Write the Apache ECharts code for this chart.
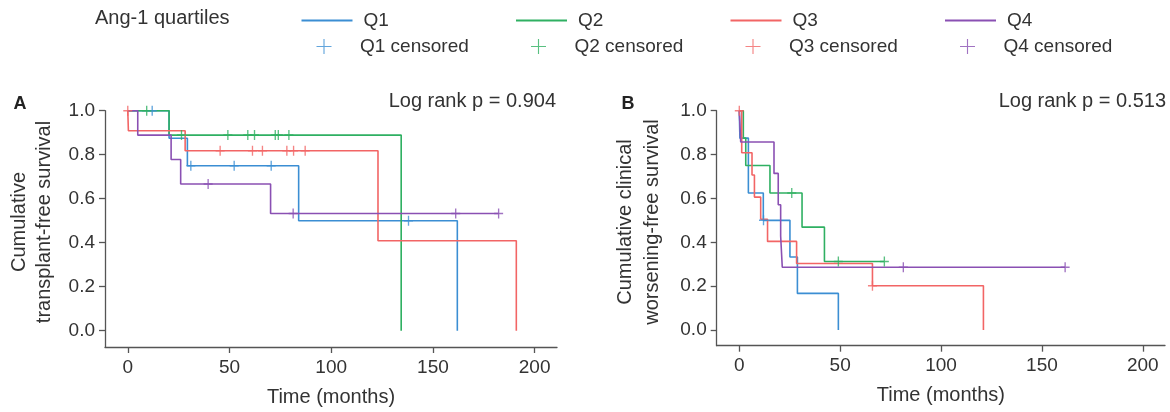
<!DOCTYPE html>
<html>
<head>
<meta charset="utf-8">
<script src="https://cdn.jsdelivr.net/npm/echarts@6/dist/echarts.min.js"></script>
<style>
html,body{margin:0;padding:0;background:#fff;}
#chart{width:1170px;height:412px;}
</style>
</head>
<body>
<div id="chart"></div>
<script>
// ---------- DATA ----------
const groups = ['Q1', 'Q2', 'Q3', 'Q4'];
const xTicks = [0, 50, 100, 150, 200];
const yTicks = [0, 0.2, 0.4, 0.6, 0.8, 1.0];

// Panel A: transplant-free survival (event times, survival after event)
const A_Q1_t = [0, 20.3, 29.3, 84, 162];
const A_Q1_s = [1, 0.875, 0.75, 0.5, 0];
const A_Q1_cens = [12, 31, 52.3, 70.5, 138];

const A_Q2_t = [0, 20.3, 134.4];
const A_Q2_s = [1, 0.889, 0];
const A_Q2_cens = [9.3, 26.4, 49.2, 59, 62.3, 72.5, 74, 79.2];

const A_Q3_t = [0, 0.3, 28.2, 123, 191];
const A_Q3_s = [1, 0.909, 0.818, 0.409, 0];
const A_Q3_cens = [0, 45.4, 61.3, 66.2, 78.2, 81.5, 87.2];

const A_Q4_t = [0, 4.9, 21.3, 26, 70.2, 182.3];
const A_Q4_s = [1, 0.889, 0.778, 0.667, 0.533, 0.533];
const A_Q4_cens = [39.5, 81.3, 161.2, 182.3];

// Panel B: clinical worsening-free survival
const B_Q1_t = [0, 0.3, 4.5, 11.9, 25.1, 28.8, 49.1];
const B_Q1_s = [1, 0.875, 0.625, 0.5, 0.333, 0.167, 0];
const B_Q1_cens = [12];

const B_Q2_t = [0, 2, 3.2, 15.2, 31.1, 42.2, 71.9];
const B_Q2_s = [1, 0.875, 0.75, 0.625, 0.469, 0.3125, 0.3125];
const B_Q2_cens = [26, 49.1, 71.9];

const B_Q3_t = [0, 1.2, 6.3, 7.5, 10.6, 14, 28.4, 66, 121];
const B_Q3_s = [1, 0.808, 0.707, 0.606, 0.505, 0.404, 0.303, 0.202, 0];
const B_Q3_cens = [0, 66];

const B_Q4_t = [0, 0.7, 17.2, 19.3, 20.5, 21.3, 161.5];
const B_Q4_s = [1, 0.857, 0.714, 0.571, 0.429, 0.286, 0.286];
const B_Q4_cens = [81.3, 161.5];

const pValues = ['Log rank p = 0.904', 'Log rank p = 0.513'];
const yNames = ['Cumulative\ntransplant-free survival', 'Cumulative clinical\nworsening-free survival'];
const xName = 'Time (months)';
const legendTitle = 'Ang-1 quartiles';

// ---------- STYLE ----------
const colors = ['#3b8ed3', '#2fb062', '#f26565', '#8a50b3'];
const FONT = '"Liberation Sans", Arial, sans-serif';
const TXT = '#333';
const AX = '#555';
const plusSym = 'path://M8.5,0h3v8.5h8.5v3h-8.5v8.5h-3v-8.5h-8.5v-3h8.5z';
const plusLegend = 'path://M9.25,0h1.5v9.25h9.25v1.5h-9.25v9.25h-1.5v-9.25h-9.25v-1.5h9.25z';

const panels = [
  {t: [A_Q1_t, A_Q2_t, A_Q3_t, A_Q4_t], s: [A_Q1_s, A_Q2_s, A_Q3_s, A_Q4_s], c: [A_Q1_cens, A_Q2_cens, A_Q3_cens, A_Q4_cens]},
  {t: [B_Q1_t, B_Q2_t, B_Q3_t, B_Q4_t], s: [B_Q1_s, B_Q2_s, B_Q3_s, B_Q4_s], c: [B_Q1_cens, B_Q2_cens, B_Q3_cens, B_Q4_cens]}
];

function survAt(ts, ss, t) {
  let v = ss[0];
  for (let i = 0; i < ts.length; i++) if (ts[i] <= t) v = ss[i];
  return v;
}

const grids = [
  {left: 105, top: 110.7, width: 452, bottom: 65},
  {left: 716.7, top: 110.7, width: 448.3, bottom: 66.3}
];
const yMins = [-0.074, -0.0716];

const xAxes = grids.map((g, i) => ({
  type: 'value', gridIndex: i, min: -11.2, max: 211,
  name: xName, nameLocation: 'middle', nameGap: 40,
  nameTextStyle: {fontSize: 20, color: TXT, fontFamily: FONT},
  axisLine: {show: true, onZero: false, lineStyle: {color: AX, width: 1.3}},
  axisTick: {show: true, length: 6, lineStyle: {color: AX, width: 1.3}, customValues: xTicks},
  axisLabel: {fontSize: 19, color: TXT, fontFamily: FONT, margin: 11, customValues: xTicks},
  splitLine: {show: false}
}));
const yAxes = grids.map((g, i) => ({
  type: 'value', gridIndex: i, min: yMins[i], max: 1,
  axisLine: {show: true, onZero: false, lineStyle: {color: AX, width: 1.3}},
  axisTick: {show: true, length: 6, lineStyle: {color: AX, width: 1.3}, customValues: yTicks},
  axisLabel: {fontSize: 19, color: TXT, fontFamily: FONT, margin: 10, customValues: yTicks,
    formatter: v => v.toFixed(1)},
  splitLine: {show: false}
}));

const series = [];
panels.forEach((p, pi) => {
  groups.forEach((g, gi) => {
    series.push({
      name: g, type: 'line', step: 'end', xAxisIndex: pi, yAxisIndex: pi,
      data: p.t[gi].map((t, k) => [t, p.s[gi][k]]),
      showSymbol: false, symbol: 'none',
      lineStyle: {color: colors[gi], width: 1.6},
      itemStyle: {color: colors[gi]},
      emphasis: {disabled: true}, z: 2
    });
  });
  groups.forEach((g, gi) => {
    series.push({
      name: g + ' censored', type: 'scatter', xAxisIndex: pi, yAxisIndex: pi,
      data: p.c[gi].map(t => [t, survAt(p.t[gi], p.s[gi], t)]),
      symbol: plusSym, symbolSize: [9, 10],
      itemStyle: {color: colors[gi]},
      emphasis: {disabled: true}, z: 3
    });
  });
});

const legendLeft0 = 296.5, legendStep = 214.5;
const legends = [];
groups.forEach((g, gi) => {
  const L = legendLeft0 + gi * legendStep;
  legends.push({
    left: L, top: 6, itemWidth: 51, itemHeight: 2, itemGap: 0,
    data: [{name: g, icon: 'rect'}],
    selectedMode: false,
    textStyle: {fontSize: 19, color: TXT, fontFamily: FONT, padding: [0, 0, 0, 6]}
  });
  legends.push({
    left: L + 15, top: 32, itemWidth: 20, itemHeight: 15, itemGap: 0,
    data: [{name: g + ' censored', icon: plusLegend}],
    selectedMode: false,
    textStyle: {fontSize: 19, color: TXT, fontFamily: FONT, padding: [0, 0, 0, 21]}
  });
});

const graphic = [
  {type: 'text', left: 95, top: 8, style: {text: legendTitle, fontSize: 20, fill: TXT, fontFamily: FONT}},
  {type: 'text', x: 20, y: 104, style: {text: 'A', fontSize: 18, fontWeight: 'bold', fill: '#222', fontFamily: FONT, align: 'center', verticalAlign: 'middle'}},
  {type: 'text', x: 628, y: 104, style: {text: 'B', fontSize: 18, fontWeight: 'bold', fill: '#222', fontFamily: FONT, align: 'center', verticalAlign: 'middle'}},
  {type: 'text', x: 556, y: 101, style: {text: pValues[0], fontSize: 20, fill: TXT, fontFamily: FONT, align: 'right', verticalAlign: 'middle'}},
  {type: 'text', x: 1166, y: 101, style: {text: pValues[1], fontSize: 20, fill: TXT, fontFamily: FONT, align: 'right', verticalAlign: 'middle'}},
  {type: 'text', x: 32, y: 222, rotation: Math.PI / 2, style: {text: yNames[0], fontSize: 20, lineHeight: 25, fill: TXT, fontFamily: FONT, align: 'center', verticalAlign: 'middle'}},
  {type: 'text', x: 639, y: 222, rotation: Math.PI / 2, style: {text: yNames[1], fontSize: 20, lineHeight: 27, fill: TXT, fontFamily: FONT, align: 'center', verticalAlign: 'middle'}}
];

const chart = echarts.init(document.getElementById('chart'), null, {renderer: 'canvas'});
chart.setOption({
  animation: false,
  backgroundColor: '#fff',
  grid: grids,
  xAxis: xAxes,
  yAxis: yAxes,
  legend: legends,
  series: series,
  graphic: graphic
});
</script>
</body>
</html>
